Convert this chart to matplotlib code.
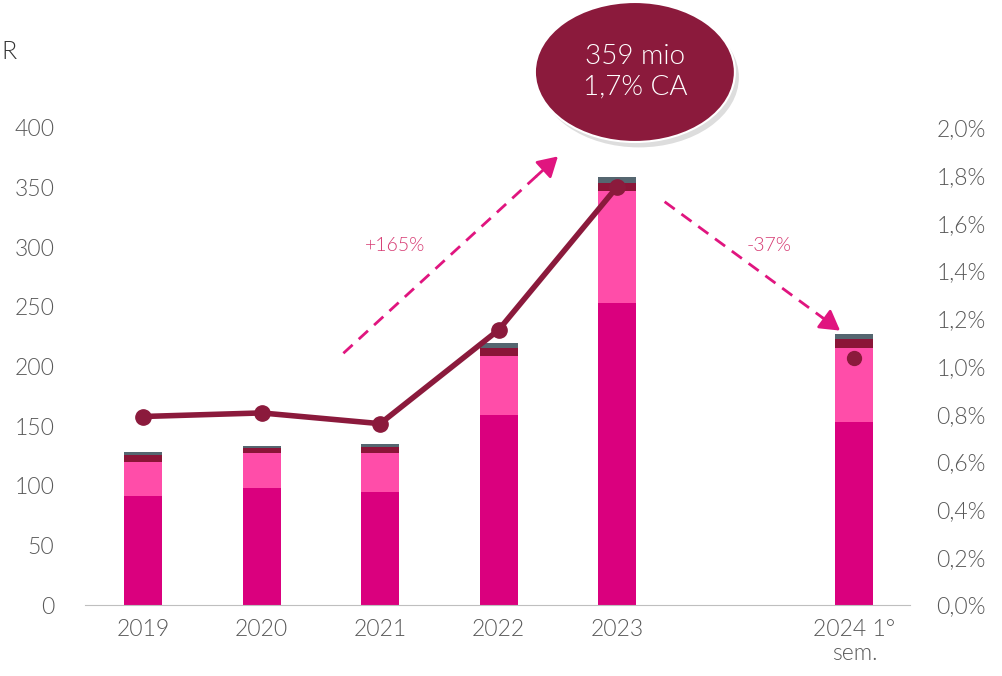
import matplotlib
matplotlib.use("Agg")
import matplotlib.pyplot as plt
from matplotlib.patches import Ellipse, FancyArrowPatch
import numpy as np

categories = ["2019", "2020", "2021", "2022", "2023", "2024 1°\nsem."]
positions = [0, 1, 2, 3, 4, 6]
seg1 = [91.4, 98.4, 95.0, 159.3, 253.5, 153.7]   # magenta
seg2 = [28.8, 29.4, 32.7, 49.5, 93.1, 61.6]      # pink
seg3 = [5.6, 3.4, 5.0, 7.0, 7.5, 7.5]            # dark red
seg4 = [2.3, 2.3, 2.3, 3.7, 4.5, 4.2]            # gray
pct_line = [0.79, 0.805, 0.76, 1.153, 1.753]     # % CA 2019-2023
pct_2024 = 1.036
left_ticks = [0, 50, 100, 150, 200, 250, 300, 350, 400]
right_ticks = [0.0, 0.2, 0.4, 0.6, 0.8, 1.0, 1.2, 1.4, 1.6, 1.8, 2.0]

plt.rcParams['font.family'] = ['Lato', 'DejaVu Sans']
TXT = '#595959'
W = 300

fig = plt.figure(figsize=(10.03, 6.76), dpi=100)
ax = fig.add_axes([0.0847, 0.105, 0.8226, 0.706])
ax2 = ax.twinx()

b = np.zeros(len(positions))
cols = ['#DA007E', '#FF4DA9', '#8B1538', '#556670']
for seg, c in zip([seg1, seg2, seg3, seg4], cols):
    ax.bar(positions, seg, bottom=b, width=0.32, color=c, edgecolor='none', zorder=2)
    b += np.array(seg)

ax.set_xlim(-0.49, 6.47)
ax.set_ylim(0, 400)
ax.set_yticks(left_ticks)
ax.set_yticklabels([str(t) for t in left_ticks])
ax.set_xticks(positions)
ax.set_xticklabels(categories)
for s in ['top', 'right', 'left']:
    ax.spines[s].set_visible(False)
ax.spines['bottom'].set_color('#BFBFBF')
ax.tick_params(axis='y', length=0, labelsize=16.5, labelcolor=TXT, pad=22)
ax.tick_params(axis='x', length=0, labelsize=16.5, labelcolor=TXT, pad=10)

ax2.set_ylim(0, 2.0)
ax2.set_yticks(right_ticks)
ax2.set_yticklabels([f"{t:.1f}%".replace('.', ',') for t in right_ticks])
for s in ['top', 'right', 'left', 'bottom']:
    ax2.spines[s].set_visible(False)
ax2.tick_params(axis='y', length=0, labelsize=16.5, labelcolor=TXT, pad=19)

for lab in ax.get_xticklabels() + ax.get_yticklabels() + ax2.get_yticklabels():
    lab.set_fontweight(W)

lc = '#8B1A3C'
ax2.plot(positions[:5], pct_line, color=lc, lw=4, marker='o', ms=11, zorder=5, solid_capstyle='round')
ax2.plot([positions[5]], [pct_2024], color=lc, marker='o', ms=10, lw=0, zorder=5)

# dashed arrows
ac = '#E0157F'
def dashed_arrow(x0, y0, x1, y1):
    t = 0.9
    xm, ym = x0 + (x1 - x0) * t, y0 + (y1 - y0) * t
    ax2.plot([x0, xm], [y0, ym], color=ac, lw=2, ls=(0, (4.5, 3)), clip_on=False, zorder=6)
    ar = FancyArrowPatch((xm, ym), (x1, y1), transform=ax2.transData,
                         arrowstyle='-|>,head_length=12,head_width=7', color=ac, lw=2,
                         mutation_scale=1, clip_on=False, zorder=6, shrinkA=0, shrinkB=0)
    ax2.add_patch(ar)

dashed_arrow(1.69, 1.055, 3.5, 1.88)
dashed_arrow(4.4, 1.69, 5.88, 1.15)
ax2.text(2.13, 1.506, '+165%', color='#D63A72', fontsize=14, ha='center', va='center', fontweight=W)
ax2.text(5.28, 1.506, '-37%', color='#D63A72', fontsize=14, ha='center', va='center', fontweight=W)

# ellipse callout
sh = Ellipse((0.633 + 0.004, 1 - 72/676 - 0.008), 200/1003, 140/676, transform=fig.transFigure,
             facecolor='#00000022', edgecolor='none', zorder=8)
fig.patches.append(sh)
el = Ellipse((0.633, 1 - 72/676), 200/1003, 140/676, transform=fig.transFigure,
             facecolor='#8B1A3C', edgecolor='white', lw=1.5, zorder=9)
fig.patches.append(el)
fig.text(0.633, 1 - 72/676, '359 mio\n1,7% CA', color='white', fontsize=20, ha='center', va='center',
         fontweight=W, linespacing=1.25, zorder=10)

fig.text(0.001, 1 - 52/676, 'R', color='#333333', fontsize=18, ha='left', va='center', fontweight=W)

fig.savefig('out.png', dpi=100)
